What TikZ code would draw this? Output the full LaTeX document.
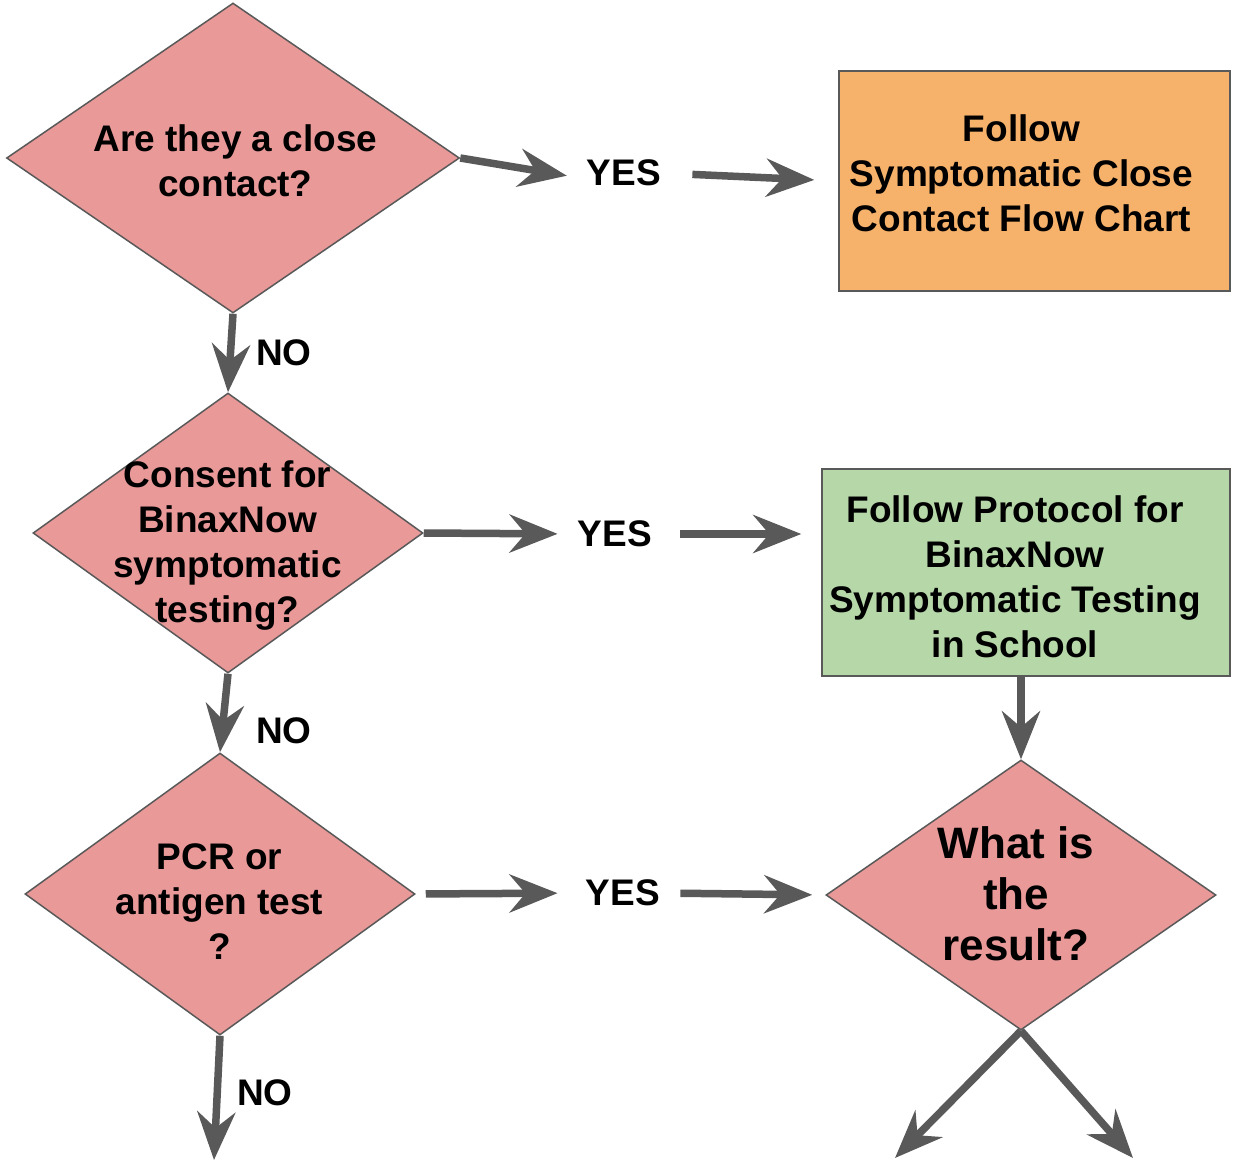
\documentclass[tikz,border=0pt]{standalone}
\usepackage{fontspec}
\setmainfont{Liberation Sans}
\usetikzlibrary{shapes.geometric,arrows.meta}
\definecolor{qpink}{HTML}{EA9999}
\definecolor{actorange}{HTML}{F6B26B}
\definecolor{actgreen}{HTML}{B6D7A8}
\definecolor{flowgray}{HTML}{595959}

\begin{document}
\begin{tikzpicture}[x=0.5pt,y=-0.5pt,
    question/.style={diamond,draw=flowgray,line width=0.75pt,fill=qpink,inner sep=0pt},
    action/.style={rectangle,draw=flowgray,line width=0.75pt,inner sep=0pt},
    words/.style={align=center,inner sep=0pt,font=\fontsize{18.5pt}{22.5pt}\selectfont\bfseries},
    answer/.style={inner sep=0pt,font=\fontsize{18.5pt}{22.5pt}\selectfont\bfseries},
    flow/.style={draw=flowgray,line width=3.75pt,-{Stealth[length=24pt,width=19pt,inset=8pt]}}]

    \useasboundingbox (0,0) rectangle (1233,1162);

    % questions
    \node[question,minimum width=226.5pt,minimum height=155pt] (d1) at (233,158) {};
    \node[question,minimum width=195pt,minimum height=140pt] (d2) at (228,533) {};
    \node[question,minimum width=195pt,minimum height=141pt] (d3) at (220,894) {};
    \node[question,minimum width=195pt,minimum height=135pt] (d4) at (1021,895) {};

    % actions
    \node[action,fill=actorange,minimum width=195.5pt,minimum height=110pt] (c1) at (1034.5,181) {};
    \node[action,fill=actgreen,minimum width=204pt,minimum height=103.5pt] (p2) at (1026,572.5) {};

    \node[words] (t1) at (235.5,161) {Are they a close\\contact?};
    \node[words] (t2) at (227.5,546) {Consent for\\BinaxNow\\symptomatic\\testing?};
    \node[words] (t3) at (219.5,902) {PCR or\\antigen test\\?};
    \node[words,font=\fontsize{22pt}{25.5pt}\selectfont\bfseries] (t4) at (1016,894) {What is\\the\\result?};
    \node[words] (tc) at (1021.5,173.5) {Follow\\Symptomatic Close\\Contact Flow Chart};
    \node[words] (tp) at (1015,577) {Follow Protocol for\\BinaxNow\\Symptomatic Testing\\in School};

    % answers
    \node[answer] (yes1) at (624,173) {YES};
    \node[answer] (yes2) at (615,534) {YES};
    \node[answer] (yes3) at (623,893) {YES};
    \node[answer] (no1) at (284,353) {NO};
    \node[answer] (no2) at (284,731) {NO};
    \node[answer] (no3) at (265,1093) {NO};

    \coordinate (end3) at (214,1160);
    \coordinate (endl) at (895,1158);
    \coordinate (endr) at (1133,1158);

    % connectors
    \draw[flow,shorten >=10pt] (d1.east) -- ([yshift=-3pt]yes1.west);
    \draw[flow,shorten <=15.5pt,shorten >=12pt] (yes1.east) -- (c1.west);
    \draw[flow,shorten >=10pt] (d2.east) -- (yes2.west);
    \draw[flow,shorten <=14pt,shorten >=10pt] (yes2.east) -- (yes2.east -| p2.west);
    \draw[flow,shorten <=5pt,shorten >=14pt] (d3.east) -- (yes3.west);
    \draw[flow,shorten <=10pt,shorten >=6.5pt] (yes3.east) -- (d4.west);

    \draw[flow] (d1.south) -- (d2.north);
    \draw[flow] (d2.south) -- (d3.north);
    \draw[flow] (d3.south) -- (end3);
    \draw[flow] (p2.south -| d4.north) -- (d4.north);
    \draw[flow] (d4.south) -- (endl);
    \draw[flow] (d4.south) -- (endr);

\end{tikzpicture}
\end{document}
